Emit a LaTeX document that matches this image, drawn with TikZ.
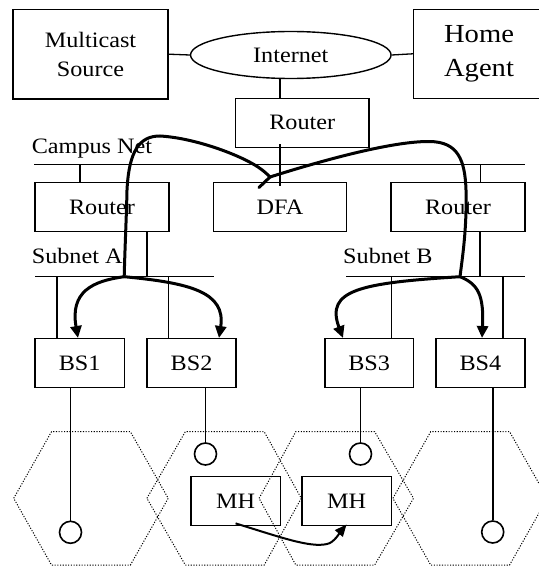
\documentclass[tikz,border=0pt]{standalone}
\usepackage{fontspec}
\setmainfont[FakeStretch=1.1]{Liberation Serif}
\usetikzlibrary{shapes.geometric,arrows.meta}
\begin{document}
\begin{tikzpicture}[x=1pt,y=1pt,
  box/.style={draw, line width=1.4pt, inner sep=0pt, font=\fontsize{22}{29}\selectfont, align=center},
  bigbox/.style={box, font=\fontsize{26}{34}\selectfont},
  bus/.style={line width=1.1pt},
  link/.style={line width=1.3pt},
  drop/.style={line width=1.8pt},
  cell/.style={line width=1pt, dash pattern=on 1.1pt off 1.6pt},
  ant/.style={draw, circle, line width=1.6pt, minimum size=22pt, inner sep=0pt},
  tree/.style={line width=3pt, line cap=round},
  treearrow/.style={line width=3pt, -{Triangle[length=12pt,width=11pt]}},
  mharrow/.style={line width=2pt, -{Triangle[length=12pt,width=10pt]}},
  lbl/.style={anchor=base west, inner sep=0pt, font=\fontsize{22}{29}\selectfont}]
\useasboundingbox (0,0) rectangle (538,-567);

% top row
\node[box, minimum width=155pt, minimum height=89.7pt] (ms) at (90.5,-54.2) {Multicast\\Source};
\node[box, ellipse, minimum width=200.5pt, minimum height=47pt] (inet) at (290.8,-55) {Internet};
\node[bigbox, minimum width=131pt, minimum height=89pt] (ha) at (479,-53.8) {Home\\Agent};
\node[box, minimum width=133.6pt, minimum height=49pt] (r0) at (302.2,-122.8) {Router};
\draw[link] (ms.east) -- (inet.west);
\draw[link] (inet.east) -- (ha.west);
\draw[link] (280,0 |- inet.south) -- (280,0 |- r0.north);

% campus net
\node[lbl] (lcampus) at (31.6,-153) {Campus Net};
\coordinate (cl1) at (34,-164.5);
\coordinate (cl2) at (525,-164.5);
\draw[bus] (cl1) -- (cl2);

\node[box, minimum width=134pt, minimum height=49.2pt] (ra) at (102,-207.1) {Router};
\node[box, minimum width=133pt, minimum height=49.2pt] (dfa) at (280,-207.1) {DFA};
\node[box, minimum width=134pt, minimum height=49.2pt] (rb) at (458,-207.1) {Router};
\draw[link] (80,0 |- cl1) -- (80,0 |- ra.north);
\draw[link] (480.4,0 |- cl1) -- (480.4,0 |- rb.north);
\draw[link, shorten <=-4pt, shorten >=-4.5pt] (280,0 |- r0.south) -- (280,0 |- dfa.north);

% subnets
\node[lbl] (lsuba) at (31.6,-263) {Subnet A};
\node[lbl] (lsubb) at (343,-263) {Subnet B};
\coordinate (sa1) at (35,-276.7);
\coordinate (sa2) at (213.8,-276.7);
\coordinate (sb1) at (346,-276.7);
\coordinate (sb2) at (525,-276.7);
\draw[bus] (sa1) -- (sa2);
\draw[bus] (sb1) -- (sb2);
\draw[link] (147,0 |- ra.south) -- (147,0 |- sa1);
\draw[link] (480,0 |- rb.south) -- (480,0 |- sb1);

% base stations
\node[box, minimum width=89.2pt, minimum height=49pt] (bs1) at (79.6,-363.2) {BS1};
\node[box, minimum width=89pt, minimum height=49pt] (bs2) at (191.5,-363.2) {BS2};
\node[box, minimum width=88.5pt, minimum height=49pt] (bs3) at (369.2,-363.2) {BS3};
\node[box, minimum width=89.2pt, minimum height=49pt] (bs4) at (480.4,-363.2) {BS4};
\draw[link] (57,0 |- sa1) -- (57,0 |- bs1.north);
\draw[link] (168.8,0 |- sa1) -- (168.8,0 |- bs2.north);
\draw[link] (391.2,0 |- sb1) -- (391.2,0 |- bs3.north);
\draw[link] (503,0 |- sb1) -- (503,0 |- bs4.north);

% cells
\draw[cell] (13.7,-498.3) -- (51.5,-431.7) -- (130.4,-431.7) -- (168.2,-498.3) -- (130.4,-565) -- (51.5,-565) -- cycle;
\draw[cell] (146.9,-498.3) -- (185.3,-431.7) -- (264.2,-431.7) -- (301.3,-498.3) -- (264.2,-565) -- (185.3,-565) -- cycle;
\draw[cell] (259.1,-498.3) -- (295.8,-431.7) -- (374.7,-431.7) -- (413.5,-498.3) -- (374.7,-565) -- (295.8,-565) -- cycle;
\draw[cell] (392.9,-498.3) -- (430.7,-431.7) -- (509.6,-431.7) -- (547.4,-498.3) -- (509.6,-565) -- (430.7,-565) -- cycle;

% antennas
\node[ant] (c1) at (70.5,-532.3) {};
\node[ant] (c2) at (205.5,-454) {};
\node[ant] (c3) at (360.5,-454) {};
\node[ant] (c4) at (492.7,-532) {};
\draw[drop] (c1.north |- bs1.south) -- (c1.north);
\draw[drop] (c2.north |- bs2.south) -- (c2.north);
\draw[drop] (c3.north |- bs3.south) -- (c3.north);
\draw[drop] (c4.north |- bs4.south) -- (c4.north);

% mobile hosts
\node[box, minimum width=89.6pt, minimum height=49pt] (mh1) at (235.6,-501.2) {MH};
\node[box, minimum width=89.2pt, minimum height=49pt] (mh2) at (346.6,-501.2) {MH};
\draw[mharrow] ([yshift=3pt]mh1.south) .. controls (280,-537) and (310,-548) .. (327,-544)
  .. controls (334,-543) and (341,-531) .. ([yshift=2pt]mh2.south);

% multicast tree
\coordinate (J0) at (270,-177);
\coordinate (JA) at (124.2,-276.7);
\coordinate (JB) at (460,-276.7);
\coordinate (S0) at (259,-187.5);
\draw[tree] (S0) -- (J0);
\draw[tree] (JA) .. controls (125,-245) and (126.5,-215) .. (127,-190)
  .. controls (129,-150) and (140,-136) .. (160,-136)
  .. controls (195,-138) and (240,-155) .. (258,-167)
  .. controls (264,-171) and (267,-174) .. (J0);
\draw[tree] (J0) .. controls (330,-158) and (395,-141) .. (430,-141.5)
  .. controls (458,-142) and (465,-160) .. (466,-190)
  .. controls (467,-230) and (462,-260) .. (JB);
\draw[treearrow] (JA) .. controls (92,-281) and (70,-292) .. (78,0 |- bs1.north);
\draw[treearrow] (JA) .. controls (190,-283) and (226,-292) .. (219,0 |- bs2.north);
\draw[treearrow] (JB) .. controls (360,-283) and (325,-290) .. (343,0 |- bs3.north);
\draw[treearrow] (JB) .. controls (478,-284) and (484,-295) .. (482,0 |- bs4.north);
\end{tikzpicture}
\end{document}
